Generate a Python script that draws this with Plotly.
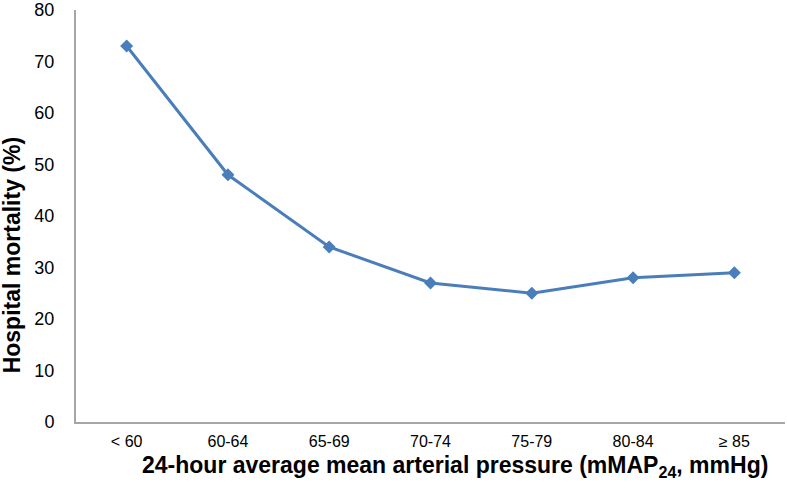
import plotly.graph_objects as go

categories = ["< 60", "60-64", "65-69", "70-74", "75-79", "80-84", "≥ 85"]
mortality = [73, 48, 34, 27, 25, 28, 29]
y_ticks = [0, 10, 20, 30, 40, 50, 60, 70, 80]

fig = go.Figure()
fig.add_trace(go.Scatter(
    x=categories, y=mortality, mode="lines+markers",
    line=dict(color="#4A7EBB", width=3),
    marker=dict(symbol="diamond", size=10, color="#4A7EBB"),
    showlegend=False,
))

font = "Liberation Sans, Arial, sans-serif"
fig.update_layout(
    width=787, height=503,
    margin=dict(l=76, r=2, t=10, b=81),
    paper_bgcolor="white", plot_bgcolor="white",
    font=dict(family=font, size=17, color="#000000"),
    xaxis=dict(
        type="category", range=[-0.5, 6.5], automargin=False,
        showline=True, linecolor="#A6A6A6", linewidth=2,
        showgrid=False, ticks="outside", ticklen=4, tickcolor="rgba(0,0,0,0)",
        tickfont=dict(size=16),
    ),
    yaxis=dict(
        range=[0, 80], tickvals=y_ticks, automargin=False,
        showline=True, linecolor="#A6A6A6", linewidth=2,
        showgrid=False, zeroline=False,
        ticks="outside", ticklen=16, tickcolor="rgba(0,0,0,0)",
        tickfont=dict(size=18),
    ),
    annotations=[
        dict(
            text="<b>24-hour average mean arterial pressure (mMAP<sub>24</sub>, mmHg)</b>",
            xref="paper", yref="paper", x=0.534, y=-0.107,
            xanchor="center", yanchor="middle",
            showarrow=False, font=dict(size=23),
        ),
        dict(
            text="<b>Hospital mortality (%)</b>",
            xref="paper", yref="paper", x=-0.09, y=0.405,
            xanchor="center", yanchor="middle", textangle=-90,
            showarrow=False, font=dict(size=23),
        ),
    ],
)

fig.write_html(
    "out.html",
    config={"displayModeBar": False},
    post_script="document.body.style.margin='0';document.body.style.padding='0';",
)
